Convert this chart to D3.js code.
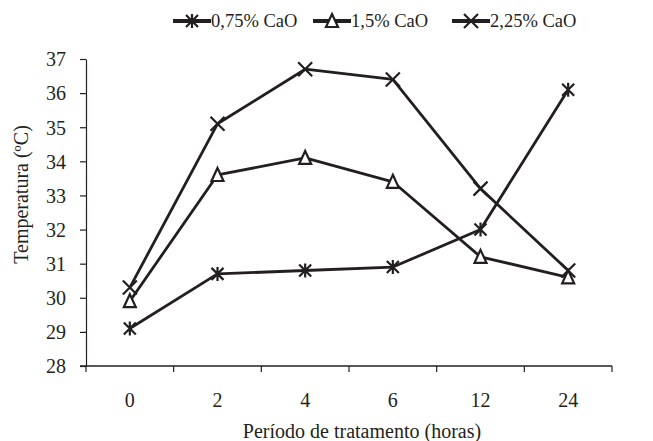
<!DOCTYPE html>
<html>
<head>
<meta charset="utf-8">
<script src="https://cdn.jsdelivr.net/npm/d3@7"></script>
<style>
  body { margin: 0; background: #fff; }
  svg text { font-family: "Liberation Serif", "Times New Roman", serif; fill: #231f20; }
</style>
</head>
<body>
<div id="chart"></div>
<script>
// Data
const periods = ["0", "2", "4", "6", "12", "24"];
const cao075 = [29.1, 30.7, 30.8, 30.9, 32.0, 36.1];
const cao150 = [29.9, 33.6, 34.1, 33.4, 31.2, 30.6];
const cao225 = [30.3, 35.1, 36.7, 36.4, 33.2, 30.8];
const seriesNames = ["0,75% CaO", "1,5% CaO", "2,25% CaO"];
const yTicks = [28, 29, 30, 31, 32, 33, 34, 35, 36, 37];

const width = 653, height = 441;
const margin = { top: 59, right: 41, bottom: 75, left: 86 };
const ink = "#231f20";

const svg = d3.select("#chart").append("svg")
    .attr("width", width)
    .attr("height", height);

const x = d3.scaleBand()
    .domain(periods)
    .range([margin.left, width - margin.right]);

const y = d3.scaleLinear()
    .domain([28, 37])
    .range([height - margin.bottom, margin.top]);

// y axis
const yAxis = svg.append("g")
    .attr("transform", `translate(${margin.left},0)`)
    .call(d3.axisLeft(y).tickValues(yTicks).tickSize(6).tickPadding(14).tickSizeOuter(0));
yAxis.select(".domain").attr("stroke", ink).attr("stroke-width", 1.2);
yAxis.selectAll(".tick line").attr("stroke", ink).attr("stroke-width", 1.2);
yAxis.selectAll(".tick text").attr("font-size", 20).attr("dy", "0.34em");

// x axis: ticks between categories, labels in the middle
const xAxis = svg.append("g")
    .attr("transform", `translate(0,${height - margin.bottom})`);
xAxis.append("line")
    .attr("x1", margin.left - 6)
    .attr("x2", width - margin.right)
    .attr("stroke", ink)
    .attr("stroke-width", 1.6);
const bounds = periods.map(p => x(p)).concat([x.range()[1]]);
xAxis.selectAll("line.tk")
    .data(bounds)
    .join("line")
    .attr("class", "tk")
    .attr("x1", d => d).attr("x2", d => d)
    .attr("y1", 0).attr("y2", 6)
    .attr("stroke", ink)
    .attr("stroke-width", 1.2);
xAxis.selectAll("text")
    .data(periods)
    .join("text")
    .attr("x", d => x(d) + x.bandwidth() / 2)
    .attr("y", 41)
    .attr("text-anchor", "middle")
    .attr("font-size", 20)
    .text(d => d);

// axis titles
svg.append("text")
    .attr("x", (margin.left + width - margin.right) / 2 + 13)
    .attr("y", 438)
    .attr("text-anchor", "middle")
    .attr("font-size", 20)
    .text("Período de tratamento (horas)");

svg.append("text")
    .attr("transform", `translate(28,${(margin.top + height - margin.bottom) / 2 - 18}) rotate(-90)`)
    .attr("text-anchor", "middle")
    .attr("font-size", 20)
    .text("Temperatura (ºC)");

// marker drawing
function drawMarker(g, type) {
    const s = 6;
    if (type === "asterisk") {
        g.append("path")
            .attr("d", `M${-s},${-s}L${s},${s}M${-s},${s}L${s},${-s}M0,${-s - 1}L0,${s + 1}`)
            .attr("stroke", ink).attr("stroke-width", 2.2).attr("fill", "none");
    } else if (type === "triangle") {
        g.append("path")
            .attr("d", `M0,${-s - 1}L${s},${s}L${-s},${s}Z`)
            .attr("stroke", ink).attr("stroke-width", 2.2).attr("fill", "#fff");
    } else {
        g.append("path")
            .attr("d", `M${-s - 1},${-s - 1}L${s + 1},${s + 1}M${-s - 1},${s + 1}L${s + 1},${-s - 1}`)
            .attr("stroke", ink).attr("stroke-width", 2.2).attr("fill", "none");
    }
}

const series = [
    { name: seriesNames[0], values: cao075, marker: "asterisk" },
    { name: seriesNames[1], values: cao150, marker: "triangle" },
    { name: seriesNames[2], values: cao225, marker: "cross" }
];

const line = d3.line()
    .x((d, i) => x(periods[i]) + x.bandwidth() / 2)
    .y(d => y(d));

series.forEach(s => {
    svg.append("path")
        .datum(s.values)
        .attr("d", line)
        .attr("fill", "none")
        .attr("stroke", ink)
        .attr("stroke-width", 2.8)
        .attr("stroke-linejoin", "round");
});

series.forEach(s => {
    s.values.forEach((v, i) => {
        const g = svg.append("g")
            .attr("transform", `translate(${x(periods[i]) + x.bandwidth() / 2},${y(v)})`);
        drawMarker(g, s.marker);
    });
});

// legend
const legendX = [173, 313, 452];
series.forEach((s, i) => {
    const g = svg.append("g").attr("transform", `translate(${legendX[i]},21)`);
    g.append("line")
        .attr("x1", 0).attr("x2", 38)
        .attr("y1", 0).attr("y2", 0)
        .attr("stroke", ink).attr("stroke-width", 4);
    drawMarker(g.append("g").attr("transform", "translate(19,0)"), s.marker);
    g.append("text")
        .attr("x", 38)
        .attr("y", 0)
        .attr("dy", "0.34em")
        .attr("font-size", 18.5)
        .text(s.name);
});
</script>
</body>
</html>
